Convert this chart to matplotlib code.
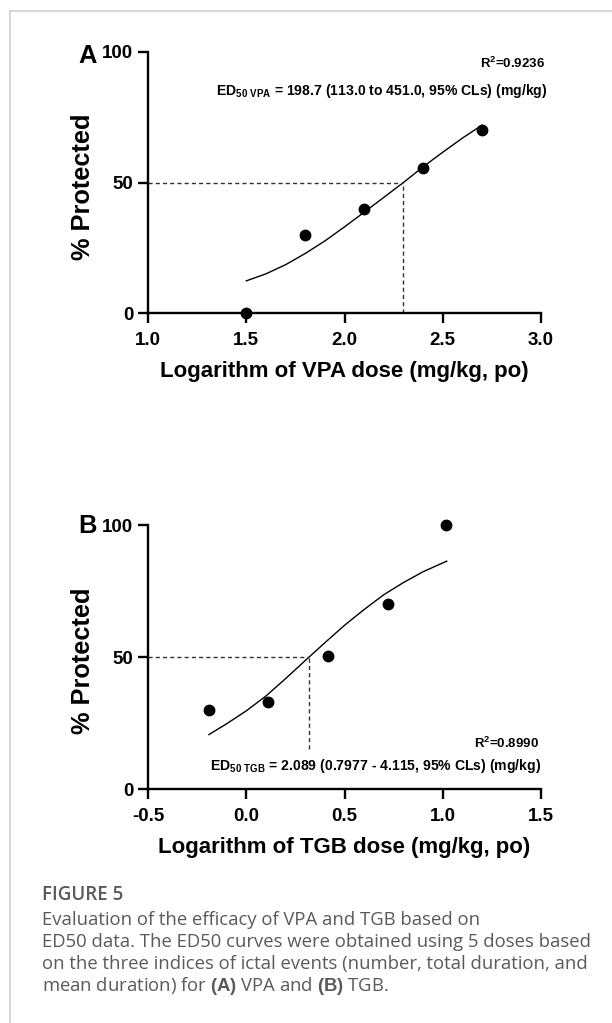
import matplotlib
matplotlib.use("Agg")
import matplotlib.pyplot as plt
from matplotlib.lines import Line2D

plt.rcParams['font.family'] = ['Liberation Sans', 'DejaVu Sans']
plt.rcParams['mathtext.fontset'] = 'custom'
plt.rcParams['mathtext.rm'] = 'Liberation Sans:bold'
plt.rcParams['mathtext.bf'] = 'Liberation Sans:bold'
plt.rcParams['mathtext.default'] = 'bf'

# ---- Panel A (VPA) ----
vpa_log_dose = [1.5, 1.8, 2.1, 2.4, 2.7]
vpa_protected = [0, 30, 40, 55.5, 70]
vpa_fit_x = [1.5, 1.6, 1.7, 1.8, 1.9, 2.0, 2.1, 2.2, 2.3, 2.4, 2.5, 2.6, 2.7]
vpa_fit_y = [12.3, 15.0, 18.5, 22.8, 27.6, 33.0, 38.6, 44.3, 50.0, 56.0, 61.6, 67.0, 72.0]
vpa_ed50_log = 2.3
vpa_xticks = [1.0, 1.5, 2.0, 2.5, 3.0]

# ---- Panel B (TGB) ----
tgb_log_dose = [-0.19, 0.113, 0.416, 0.719, 1.019]
tgb_protected = [30, 33, 50.3, 70, 100]
tgb_fit_x = [-0.19, -0.1, 0.0, 0.1, 0.2, 0.32, 0.4, 0.5, 0.6, 0.7, 0.8, 0.9, 1.02]
tgb_fit_y = [20.6, 24.7, 29.6, 35.2, 41.8, 50.0, 55.4, 62.0, 68.0, 73.6, 78.2, 82.3, 86.3]
tgb_ed50_log = 0.32
tgb_vline_bottom = 15
tgb_xticks = [-0.5, 0.0, 0.5, 1.0, 1.5]

yticks = [0, 50, 100]

W, H = 612, 1023
fig = plt.figure(figsize=(W / 100, H / 100), dpi=100)
renderer = fig.canvas.get_renderer()


def fit_width(txt, target_px):
    """Scale a text's font size so that its rendered width matches target_px."""
    for _ in range(3):
        w = txt.get_window_extent(renderer=renderer).width
        if w > 0:
            txt.set_fontsize(txt.get_fontsize() * target_px / w)
    return txt


# light border (top and left)
fig.add_artist(Line2D([9.5 / W, 1.0], [1 - 11 / H, 1 - 11 / H], color='#cfcfcf', lw=1.2))
fig.add_artist(Line2D([9.5 / W, 9.5 / W], [1 - 11 / H, 0.0], color='#cfcfcf', lw=1.2))


def make_axes(px_left, px_right, px_top, px_bottom):
    return fig.add_axes([px_left / W, 1 - px_bottom / H,
                         (px_right - px_left) / W, (px_bottom - px_top) / H])


def style(ax, xlim, xticks, xlabel, px_top, px_bottom, xlabel_center_px):
    ax.set_xlim(*xlim)
    ax.set_ylim(0, 100)
    ax.set_xticks(xticks)
    ax.set_xticklabels([f"{t:.1f}" for t in xticks])
    ax.set_yticks(yticks)
    for s in ['top', 'right']:
        ax.spines[s].set_visible(False)
    for s in ['left', 'bottom']:
        ax.spines[s].set_linewidth(1.7)
    ax.tick_params(direction='out', length=7, width=1.7, labelsize=13.5)
    ax.tick_params(axis='x', pad=7)
    ax.tick_params(axis='y', pad=3.5)
    for lab in ax.get_xticklabels() + ax.get_yticklabels():
        lab.set_fontweight('bold')
    hpx = px_bottom - px_top
    yl = ax.set_ylabel('% Protected', fontsize=18.3, fontweight='bold')
    yl.set_va('center')
    ax.yaxis.set_label_coords((83 - 148) / 393, 1 - (186.7 - 52) / 261)
    xl = ax.set_xlabel(xlabel, fontsize=16, fontweight='bold')
    xl.set_va('center')
    ax.xaxis.set_label_coords(0.5, (px_bottom - xlabel_center_px) / hpx)


# Panel A
axA = make_axes(148, 541, 52, 313)
style(axA, (1.0, 3.0), vpa_xticks, 'Logarithm of VPA dose (mg/kg, po)', 52, 313, 372)
axA.plot(vpa_fit_x, vpa_fit_y, color='black', lw=1.0)
axA.plot([1.0, vpa_ed50_log], [50, 50], color='#333333', lw=1.0, ls=(0, (3, 2.2)))
axA.plot([vpa_ed50_log, vpa_ed50_log], [0, 50], color='#333333', lw=1.0, ls=(0, (3, 2.2)))
axA.plot(vpa_log_dose, vpa_protected, 'o', color='black', ms=7.5, clip_on=False, zorder=5)
t = fig.text(545 / W, 1 - 63 / H, r'R$^{2}$=0.9236', ha='right', va='center', fontsize=10, fontweight='bold')
fit_width(t, 65)
t = fig.text(547 / W, 1 - 90.5 / H, r'ED$_{50\ VPA}$ = 198.7 (113.0 to 451.0, 95% CLs) (mg/kg)',
             ha='right', va='center', fontsize=10, fontweight='bold')
fit_width(t, 329)
fig.text(87.5 / W, 1 - 56 / H, 'A', ha='center', va='center', fontsize=18.4, fontweight='bold')

# Panel B
axB = make_axes(148, 541, 525, 789)
style(axB, (-0.5, 1.5), tgb_xticks, 'Logarithm of TGB dose (mg/kg, po)', 525, 789, 847)
axB.plot(tgb_fit_x, tgb_fit_y, color='black', lw=1.0)
axB.plot([-0.5, tgb_ed50_log], [50, 50], color='#333333', lw=1.0, ls=(0, (3, 2.2)))
axB.plot([tgb_ed50_log, tgb_ed50_log], [tgb_vline_bottom, 50], color='#333333', lw=1.0, ls=(0, (3, 2.2)))
axB.plot(tgb_log_dose, tgb_protected, 'o', color='black', ms=7.5, clip_on=False, zorder=5)
t = fig.text(539 / W, 1 - 743 / H, r'R$^{2}$=0.8990', ha='right', va='center', fontsize=10, fontweight='bold')
fit_width(t, 65)
t = fig.text(541 / W, 1 - 766 / H, r'ED$_{50\ TGB}$ = 2.089 (0.7977 - 4.115, 95% CLs) (mg/kg)',
             ha='right', va='center', fontsize=10, fontweight='bold')
fit_width(t, 332)
fig.text(88 / W, 1 - 526 / H, 'B', ha='center', va='center', fontsize=18.4, fontweight='bold')

# Caption
cap_color = '#5a5a5a'
cap_left = 41.5 / W
t = fig.text(cap_left, 1 - 895 / H, 'FIGURE 5', ha='left', va='center', fontsize=13,
             family='Open Sans', fontweight='semibold', color=cap_color)
fit_width(t, 81)
cap_lines = [
    'Evaluation of the efficacy of VPA and TGB based on',
    'ED50 data. The ED50 curves were obtained using 5 doses based',
    'on the three indices of ictal events (number, total duration, and',
]
ys = [920, 942, 964]
probe = fig.text(0, 0, cap_lines[1], fontsize=13, family='Open Sans')
fit_width(probe, 546)
cap_fs = probe.get_fontsize()
probe.remove()
for line, yy in zip(cap_lines, ys):
    fig.text(cap_left, 1 - yy / H, line, ha='left', va='center', fontsize=cap_fs,
             family='Open Sans', color=cap_color)
fig.text(cap_left, 1 - 986 / H,
         r'mean duration) for $\mathbf{(A)}$ VPA and $\mathbf{(B)}$ TGB.',
         ha='left', va='center', fontsize=cap_fs, family='Open Sans', color=cap_color)

fig.savefig('out.png', dpi=100)
